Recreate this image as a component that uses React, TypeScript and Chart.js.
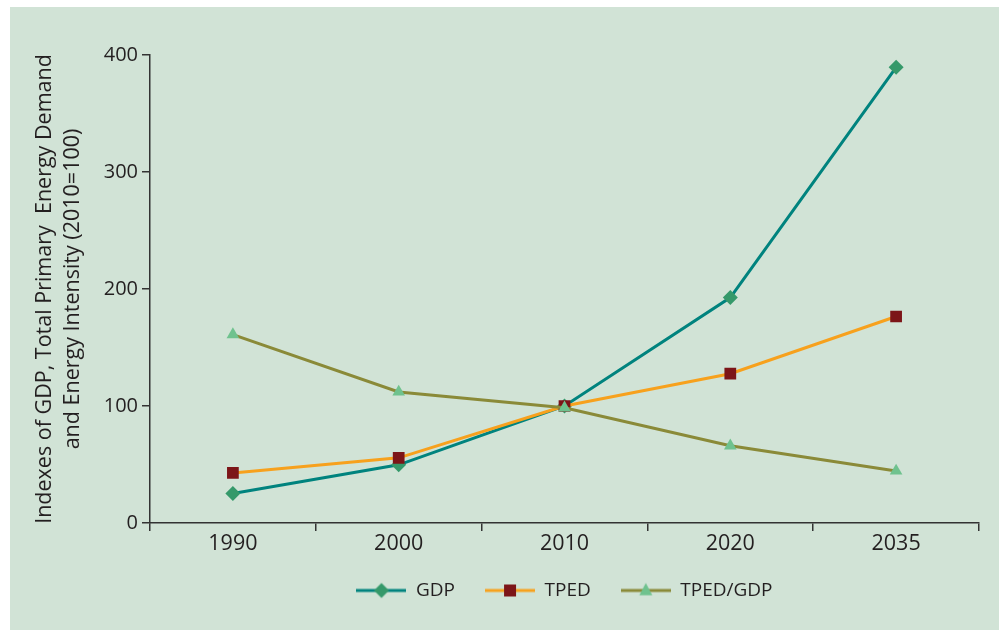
import React, { useEffect, useRef } from "react";
import { Chart, registerables } from "chart.js";

Chart.register(...registerables);

const categories = ["1990", "2000", "2010", "2020", "2035"];
const gdpValues = [25.3, 49.7, 100, 192.7, 389.5];
const tpedValues = [42.8, 55.7, 100, 127.6, 176.5];
const intensityValues = [161, 112, 98.5, 66, 44.5];
const yTicks = [0, 100, 200, 300, 400];
const seriesNames = ["GDP", "TPED", "TPED/GDP"];
const yTitle = ["Indexes of GDP, Total Primary  Energy Demand", "and Energy Intensity (2010=100)"];

const BG = "#d1e3d6";
const TEXT = "#231f20";
const AXIS = "#333333";
const FONT = "'Open Sans', 'Noto Sans', sans-serif";

const lineColors = ["#00837e", "#f7a11d", "#8a8a38"];
const markerColors = ["#35996a", "#7c1518", "#6fc28e"];
const markerStyles = ["rectRot", "rect", "triangle"];
const markerRadius = [7.5, 8.3, 7.3];

function legendImage(i: number): HTMLCanvasElement {
  const c = document.createElement("canvas");
  c.width = 50;
  c.height = 18;
  const ctx = c.getContext("2d")!;
  ctx.strokeStyle = lineColors[i];
  ctx.lineWidth = 3;
  ctx.beginPath();
  ctx.moveTo(0, 9);
  ctx.lineTo(50, 9);
  ctx.stroke();
  ctx.fillStyle = markerColors[i];
  ctx.beginPath();
  const cx = 25, cy = 9;
  if (i === 0) {
    const r = 7.5;
    ctx.moveTo(cx - r, cy);
    ctx.lineTo(cx, cy - r);
    ctx.lineTo(cx + r, cy);
    ctx.lineTo(cx, cy + r);
  } else if (i === 1) {
    ctx.rect(cx - 6, cy - 6, 12, 12);
  } else {
    const r = 7.5;
    ctx.moveTo(cx, cy - r);
    ctx.lineTo(cx + 0.866 * r, cy + 0.5 * r + 1);
    ctx.lineTo(cx - 0.866 * r, cy + 0.5 * r + 1);
  }
  ctx.closePath();
  ctx.fill();
  return c;
}

const bgPlugin = {
  id: "panelBg",
  beforeDraw(chart: any) {
    const { ctx, width, height } = chart;
    ctx.save();
    ctx.fillStyle = "#ffffff";
    ctx.fillRect(0, 0, width, height);
    ctx.fillStyle = BG;
    ctx.fillRect(10, 7, width - 10, height - 7);
    ctx.restore();
  },
};

export default function App() {
  const ref = useRef<HTMLCanvasElement | null>(null);

  useEffect(() => {
    if (!ref.current) return;
    const allValues = [gdpValues, tpedValues, intensityValues];
    const orders = [3, 2, 1];
    const images = [0, 1, 2].map(legendImage);
    const chart = new Chart(ref.current, {
      type: "line",
      data: {
        labels: categories,
        datasets: allValues.map((vals, i) => ({
          label: seriesNames[i],
          data: vals,
          borderColor: lineColors[i],
          backgroundColor: markerColors[i],
          borderWidth: 3,
          pointStyle: markerStyles[i] as any,
          pointRadius: markerRadius[i],
          pointBackgroundColor: markerColors[i],
          pointBorderWidth: 0,
          pointBorderColor: markerColors[i],
          tension: 0,
          fill: false,
          order: orders[i],
        })),
      },
      options: {
        responsive: false,
        animation: false,
        devicePixelRatio: 1,
        layout: { padding: { top: 55, right: 20, left: 0, bottom: 20 } },
        plugins: {
          tooltip: { enabled: false },
          legend: {
            position: "bottom",
            fullSize: false,
            labels: {
              usePointStyle: true,
              pointStyleWidth: 50,
              boxHeight: 18,
              padding: 30,
              color: TEXT,
              font: { family: FONT, size: 19 },
              generateLabels: () =>
                seriesNames.map((name, i) => ({
                  text: name,
                  pointStyle: images[i],
                  fillStyle: "rgba(0,0,0,0)",
                  strokeStyle: "rgba(0,0,0,0)",
                  lineWidth: 0,
                  hidden: false,
                  datasetIndex: i,
                  fontColor: TEXT,
                })) as any,
            },
          },
        },
        scales: {
          x: {
            type: "category",
            offset: true,
            afterFit: (s: any) => {
              s.height = 28;
            },
            grid: { offset: true, drawOnChartArea: false, tickLength: 8, color: AXIS, lineWidth: 1.5 },
            border: { display: true, color: AXIS, width: 1.5 },
            ticks: { color: TEXT, font: { family: FONT, size: 21.5 }, padding: 0 },
          },
          y: {
            min: 0,
            max: 400,
            afterFit: (s: any) => {
              s.width = 150;
            },
            afterBuildTicks: (s: any) => {
              s.ticks = yTicks.map((v) => ({ value: v }));
            },
            grid: { drawOnChartArea: false, tickLength: 8, color: AXIS, lineWidth: 1.5 },
            border: { display: true, color: AXIS, width: 1.5 },
            ticks: { color: TEXT, font: { family: FONT, size: 20 }, padding: 4 },
            title: {
              display: true,
              text: yTitle,
              color: TEXT,
              font: { family: FONT, size: 21.5, lineHeight: 1.3 },
              padding: { top: 31, bottom: 0 },
            },
          },
        },
      },
      plugins: [bgPlugin],
    });
    return () => chart.destroy();
  }, []);

  return (
    <canvas
      ref={ref}
      width={999}
      height={630}
      style={{ position: "fixed", left: 0, top: 0, width: 999, height: 630 }}
    />
  );
}
